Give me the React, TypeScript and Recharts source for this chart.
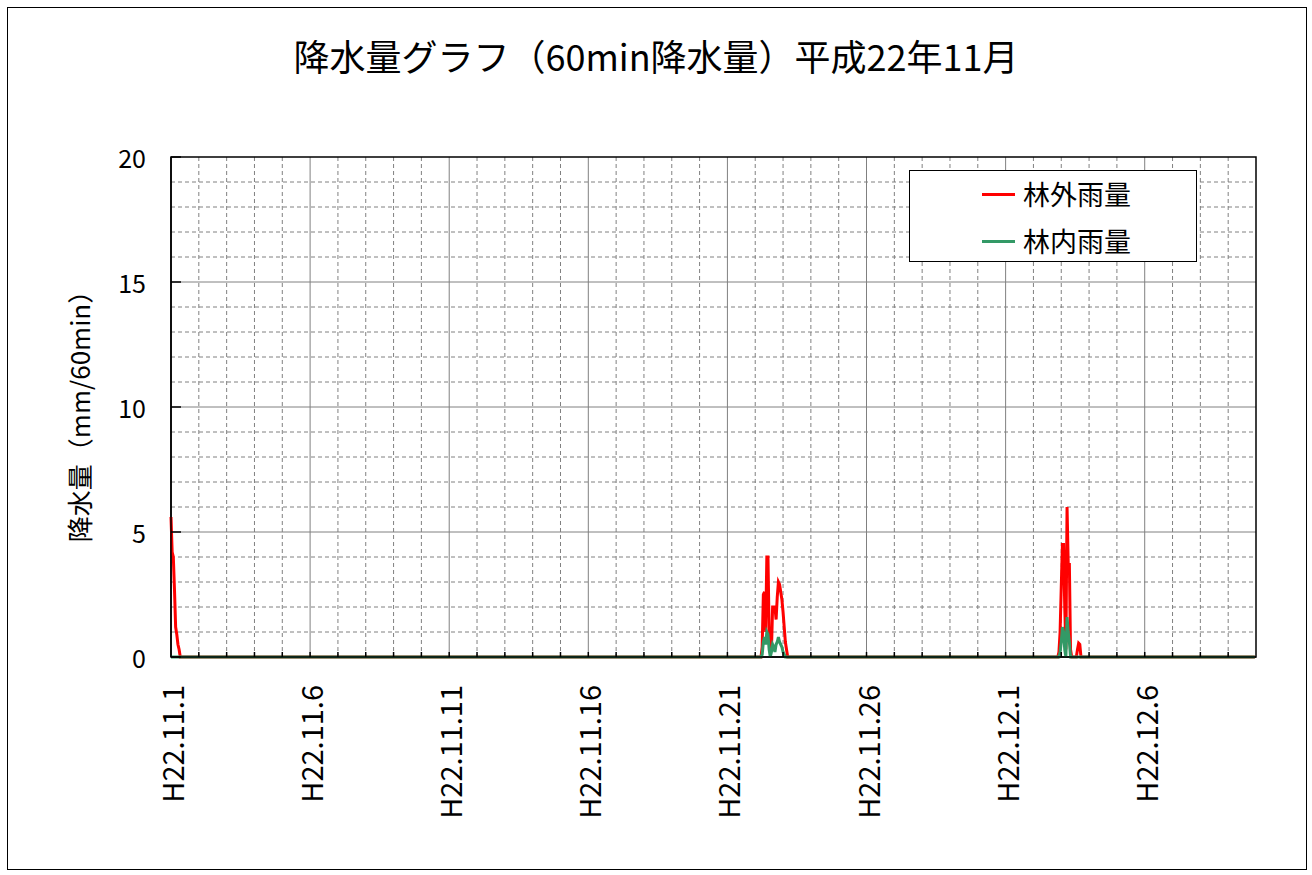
import React from 'react';
import { LineChart, Line, XAxis, YAxis, CartesianGrid, ReferenceArea, Legend } from 'recharts';

// ---- data ----
const TOTAL_HOURS = 936; // H22.11.1 00:00 .. H22.12.10 00:00, hourly
const dayTickLabels = ['H22.11.1', 'H22.11.6', 'H22.11.11', 'H22.11.16', 'H22.11.21', 'H22.11.26', 'H22.12.1', 'H22.12.6'];
const yTicks = [0, 5, 10, 15, 20];
const Y_MAX = 20;

// 林外雨量 (outside forest) hourly rainfall bursts: start hour + consecutive values
const outsideRainBursts = [
  { start: 0, values: [5.6, 4.2, 4.0, 2.7, 1.2, 0.9, 0.5, 0.3] },
  { start: 510, values: [0.4, 2.5, 2.6, 1.0, 4.0, 4.0, 1.0, 0.2, 0.3, 2.0, 2.0, 2.0, 1.5, 2.4, 3.0, 2.9, 2.6, 2.3, 1.8, 1.2, 0.6, 0.3] },
  { start: 766, values: [0.2, 1.0, 2.8, 4.5, 4.5, 2.0, 0.3, 6.0, 3.7, 3.7, 0.3] },
  { start: 782, values: [0.3, 0.55, 0.5] },
];

// 林内雨量 (inside forest) hourly rainfall bursts
const insideRainBursts = [
  { start: 510, values: [0.1, 0.6, 0.8, 0.5, 1.0, 0.9, 0.3, 0, 0.2, 0.5, 0.4, 0.2, 0.5, 0.6, 0.8, 0.6, 0.5, 0.4, 0.2, 0.1] },
  { start: 767, values: [0.2, 0.6, 1.2, 1.0, 0.3, 0, 1.6, 1.0, 0.6] },
];

const seriesNames = { outside: '林外雨量', inside: '林内雨量' };
const seriesColors = { outside: '#FF0000', inside: '#339966' };

function expand(bursts: { start: number; values: number[] }[]): number[] {
  const arr: number[] = new Array(TOTAL_HOURS).fill(0);
  bursts.forEach((b) => b.values.forEach((v, i) => { arr[b.start + i] = v; }));
  return arr;
}
const outsideSeries = expand(outsideRainBursts);
const insideSeries = expand(insideRainBursts);
const data = outsideSeries.map((v, h) => ({ hour: h, outside: v, inside: insideSeries[h] }));

const dayTicks: number[] = [];
for (let d = 0; d <= 39; d++) dayTicks.push(d * 24);
const minorY: number[] = [];
for (let v = 1; v < Y_MAX; v++) if (v % 5 !== 0) minorY.push(v);
const majorY = [5, 10, 15];
const minorX = dayTicks.filter((h) => h > 0 && h < TOTAL_HOURS && h % 120 !== 0);
const majorX = dayTicks.filter((h) => h > 0 && h < TOTAL_HOURS && h % 120 === 0);

const FONT = "'Noto Sans CJK JP', 'Noto Sans', sans-serif";

function mapY(p: any, vals: number[]): number[] {
  const s = p?.yAxis?.scale;
  if (typeof s === 'function') return vals.map((v) => s(v));
  if (s && typeof s.map === 'function') return vals.map((v) => s.map(v));
  const o = p.offset;
  return vals.map((v) => o.top + o.height * (1 - v / Y_MAX));
}
function mapX(p: any, vals: number[]): number[] {
  const s = p?.xAxis?.scale;
  if (typeof s === 'function') return vals.map((v) => s(v));
  if (s && typeof s.map === 'function') return vals.map((v) => s.map(v));
  const o = p.offset;
  return vals.map((v) => o.left + (o.width * v) / TOTAL_HOURS);
}

const XTick = (props: any) => {
  const { x, y, payload } = props;
  const v = payload.value as number;
  const idx = v / 120;
  const showLabel = v % 120 === 0 && idx < dayTickLabels.length;
  return (
    <g>
      {v > 0 && v < TOTAL_HOURS && <line x1={x} y1={y} x2={x} y2={y - 5} stroke="#000" strokeWidth={1.5} />}
      {showLabel && (
        <text
          x={x}
          y={y + 28}
          transform={`rotate(-90, ${x}, ${y + 28})`}
          textAnchor="end"
          dominantBaseline="central"
          fontSize={29}
          fontFamily={FONT}
          fill="#000"
        >
          {dayTickLabels[idx]}
        </text>
      )}
    </g>
  );
};

const YTick = (props: any) => {
  const { x, y, payload } = props;
  return (
    <g>
      <line x1={x} y1={y} x2={x + 10} y2={y} stroke="#000" strokeWidth={1.5} />
      <text x={x - 25} y={y} textAnchor="end" dominantBaseline="central" fontSize={25} fontFamily={FONT} fill="#000">
        {payload.value}
      </text>
    </g>
  );
};

const LegendBox = () => (
  <div
    style={{
      width: 288,
      height: 92,
      boxSizing: 'border-box',
      border: '1px solid #000',
      background: '#fff',
      position: 'relative',
      fontFamily: FONT,
      fontSize: 27,
    }}
  >
    {(['outside', 'inside'] as const).map((k, i) => (
      <div key={k} style={{ position: 'absolute', left: 0, top: 23 + i * 47 - 16, height: 32, display: 'flex', alignItems: 'center' }}>
        <div style={{ marginLeft: 72, width: 33, height: 3, background: seriesColors[k] }} />
        <span style={{ marginLeft: 8, lineHeight: '32px', color: '#000' }}>{seriesNames[k]}</span>
      </div>
    ))}
  </div>
);

const YLabel = (props: any) => {
  const vb = props.viewBox || { x: 111, y: 157, width: 60, height: 500 };
  const cx = vb.x - 33;
  const cy = vb.y + vb.height / 2 + 3;
  return (
    <text
      x={cx}
      y={cy}
      transform={`rotate(-90, ${cx}, ${cy})`}
      textAnchor="middle"
      dominantBaseline="central"
      fontSize={26}
      fontFamily={FONT}
      fill="#000"
    >
      降水量（mm/60min）
    </text>
  );
};

export default function App() {
  return (
    <div style={{ position: 'absolute', left: 0, top: 0, width: 1312, height: 875, background: '#fff' }}>
      <div
        style={{
          position: 'absolute',
          left: 7,
          top: 7,
          width: 1300,
          height: 863,
          boxSizing: 'border-box',
          border: '1.5px solid #000',
        }}
      />
      <div
        style={{
          position: 'absolute',
          left: 0,
          top: 32,
          width: 1312,
          textAlign: 'center',
          fontFamily: FONT,
          fontSize: 36,
          lineHeight: '46px',
          color: '#000',
        }}
      >
        降水量グラフ（60min降水量）平成22年11月
      </div>
      <div style={{ position: 'absolute', left: 0, top: 0 }}>
        <LineChart width={1312} height={875} data={data} margin={{ top: 157, right: 56, bottom: 68, left: 111 }}>
          <CartesianGrid
            stroke="#808080"
            strokeDasharray="4 3"
            horizontalCoordinatesGenerator={(p: any) => mapY(p, minorY)}
            verticalCoordinatesGenerator={(p: any) => mapX(p, minorX)}
          />
          <CartesianGrid
            stroke="#808080"
            horizontalCoordinatesGenerator={(p: any) => mapY(p, majorY)}
            verticalCoordinatesGenerator={(p: any) => mapX(p, majorX)}
          />
          <XAxis
            dataKey="hour"
            type="number"
            domain={[0, TOTAL_HOURS]}
            ticks={dayTicks}
            interval={0}
            height={150}
            tickLine={false}
            tickSize={0}
            tickMargin={0}
            axisLine={{ stroke: '#000', strokeWidth: 1.5 }}
            tick={<XTick />}
          />
          <YAxis
            type="number"
            domain={[0, Y_MAX]}
            ticks={yTicks}
            interval={0}
            width={60}
            tickLine={false}
            tickSize={0}
            tickMargin={0}
            axisLine={{ stroke: '#000', strokeWidth: 1.5 }}
            tick={<YTick />}
            label={<YLabel />}
          />
          <ReferenceArea x1={0} x2={TOTAL_HOURS} y1={0} y2={Y_MAX} fill="none" stroke="#000" strokeWidth={1.5} ifOverflow="visible" />
          <Line type="linear" dataKey="outside" name={seriesNames.outside} stroke={seriesColors.outside} strokeWidth={3} dot={false} isAnimationActive={false} />
          <Line type="linear" dataKey="inside" name={seriesNames.inside} stroke={seriesColors.inside} strokeWidth={3} dot={false} isAnimationActive={false} />
          <Legend
            layout="horizontal"
            verticalAlign="middle"
            align="center"
            content={<LegendBox />}
            wrapperStyle={{ position: 'absolute', left: 909, top: 170, width: 288, height: 92, bottom: 'auto', right: 'auto' }}
          />
        </LineChart>
      </div>
    </div>
  );
}
